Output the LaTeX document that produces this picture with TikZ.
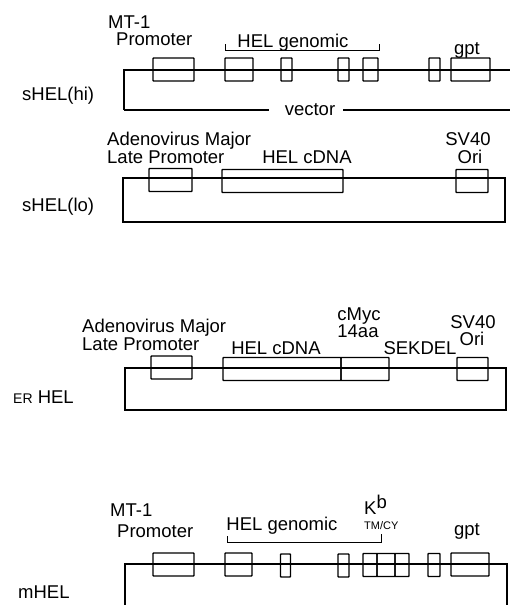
\documentclass[tikz,border=0pt]{standalone}
\usepackage{fontspec}
\setmainfont{Liberation Sans}
\usetikzlibrary{positioning}
\newcommand\lbl{\fontsize{18.5}{21}\selectfont}
\newcommand\sml{\fontsize{11}{13}\selectfont}
\tikzset{
  box/.style ={draw,line width=1.3pt,inner sep=0pt,minimum height=23,rounded corners=0.6pt},
  exon/.style={box,minimum width=#1},
  lab/.style ={inner sep=0pt,font=\lbl},
  bb/.style  ={line width=1.3pt},
  brk/.style ={line width=1pt},
}
\begin{document}
\begin{tikzpicture}[x=1pt,y=-1pt]
  \useasboundingbox (0,0) rectangle (509,605);
  % sHEL(hi) : genomic construct with vector
  \coordinate (hiTL) at (124,70);
  \coordinate (hiTR) at (512,70);
  \coordinate (hiBL) at (124,110);
  \coordinate (hiBR) at (512,110);
  \node[lab] (vec) at (310,110) {vector};
  \draw[bb] (hiTR) -- (hiTL) -- (hiBL);
  \draw[bb] (hiBL) -- ([xshift=-16pt]vec.west |- hiBL);
  \draw[bb] ([xshift=8pt]vec.east |- hiBR) -- (hiBR);
  \node[exon=41] (hiP)  at (173.5,69.5) {};
  \node[exon=28] (hi1)  at (239,69.5) {};
  \node[exon=11] (hi2)  at (286.5,69.5) {};
  \node[exon=11] (hi3)  at (343.5,69.5) {};
  \node[exon=15] (hi4)  at (370.5,69.5) {};
  \node[exon=11] (hi5)  at (434.5,69.5) {};
  \node[exon=39] (hiG)  at (470.5,69.5) {};
  \coordinate (hiB1) at (225,50);
  \coordinate (hiB2) at (379,50);
  \draw[brk] ([yshift=6pt]hiB1) -- (hiB1) -- (hiB2) -- ([yshift=6pt]hiB2);
  \node[lab,anchor=base west] (hiMT)  at (108,28) {MT-1};
  \node[lab,anchor=base west] (hiPro) at (116,45) {Promoter};
  \node[lab,anchor=base] (hiHEL) at (293,47) {HEL genomic};
  \node[lab,anchor=base] (hiGpt) at (467,54) {gpt};
  \node[lab,anchor=base west] (hiName) at (22,100) {sHEL(hi)};
  % sHEL(lo) : cDNA construct
  \coordinate (loTL) at (123,178);
  \coordinate (loBR) at (505,222);
  \draw[bb] (loTL) rectangle (loBR);
  \node[exon=43]  (loP) at (170.5,180) {};
  \node[exon=121] (loC) at (282.5,181) {};
  \node[exon=32]  (loS) at (472,181) {};
  \node[lab,anchor=base west] (loAd)  at (107,145) {Adenovirus Major};
  \node[lab,anchor=base west] (loLat) at (107,163) {Late Promoter};
  \node[lab,anchor=base] (loHEL) at (307,163) {HEL cDNA};
  \node[lab,anchor=base] (loSV)  at (468,145) {SV40};
  \node[lab,anchor=base] (loOri) at (470,163) {Ori};
  \node[lab,anchor=base west] (loName) at (22,211) {sHEL(lo)};
  % ER HEL : cDNA with cMyc tag and SEKDEL
  \coordinate (erTL) at (125,368);
  \coordinate (erBR) at (506,410);
  \draw[bb] (erTL) rectangle (erBR);
  \node[exon=41]  (erP) at (171.5,367.5) {};
  \node[exon=118] (erC) at (282,369) {};
  \node[exon=48]  (erM) at (365,369) {};
  \node[exon=31]  (erS) at (472.5,369) {};
  \node[lab,anchor=base west] (erAd)  at (82,332) {Adenovirus Major};
  \node[lab,anchor=base west] (erLat) at (82,350) {Late Promoter};
  \node[lab,anchor=base] (erHEL) at (276,354) {HEL cDNA};
  \node[lab,anchor=base] (erMyc) at (359,320) {cMyc};
  \node[lab,anchor=base] (erAa)  at (358,337) {14aa};
  \node[lab,anchor=base] (erSek) at (420,354) {SEKDEL};
  \node[lab,anchor=base] (erSV)  at (473,328) {SV40};
  \node[lab,anchor=base] (erOri) at (472,345) {Ori};
  \node[lab,anchor=base west] (erName) at (13,403) {{\fontsize{14}{16}\selectfont ER} HEL};
  % mHEL : membrane form
  \coordinate (mTL) at (125,564);
  \coordinate (mTR) at (507,564);
  \coordinate (mBL) at (125,610);
  \coordinate (mBR) at (507,610);
  \draw[bb] (mBL) -- (mTL) -- (mTR) -- (mBR);
  \node[exon=41] (mP) at (173.5,564.5) {};
  \node[exon=27] (m1) at (238.5,564.5) {};
  \node[exon=10] (m2) at (285.5,565.5) {};
  \node[exon=11] (m3) at (343.5,565.5) {};
  \node[exon=14] (k1) at (370,565) {};
  \node[exon=18] (k2) at (386,565) {};
  \node[exon=14] (k3) at (402,565) {};
  \node[exon=12] (m5) at (434,565) {};
  \node[exon=38] (mG) at (470,564.5) {};
  \coordinate (mB1) at (227,542);
  \coordinate (mB2) at (381,542);
  \draw[brk] ([yshift=6pt]mB1) -- (mB1) -- (mB2) -- ([yshift=8pt]mB2);
  \node[lab,anchor=base west] (mMT)  at (110,516) {MT-1};
  \node[lab,anchor=base west] (mPro) at (117,537) {Promoter};
  \node[lab,anchor=base] (mHELt) at (282,530) {HEL genomic};
  \node[lab,anchor=base west] (mK)  at (364,514) {K\raisebox{6pt}{b}};
  \node[inner sep=0pt,font=\sml,anchor=base west] (mTM) at (364,529) {TM/CY};
  \node[lab,anchor=base] (mGpt) at (467,535) {gpt};
  \node[lab,anchor=base west] (mName) at (18,598) {mHEL};
\end{tikzpicture}
\end{document}
